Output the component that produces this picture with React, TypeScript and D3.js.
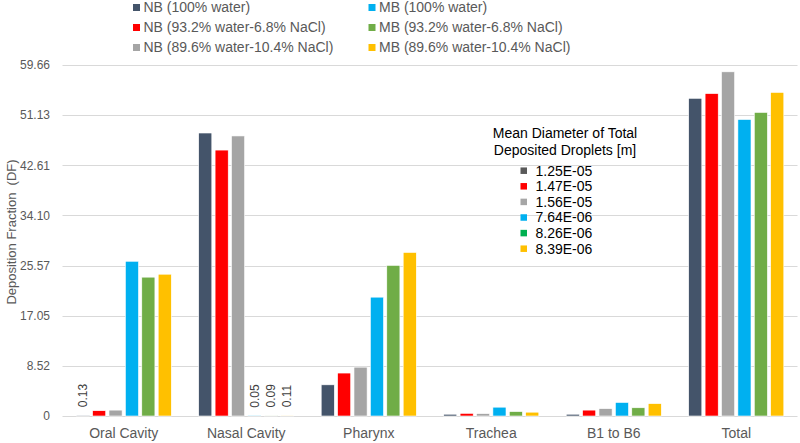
import React from "react";
import * as d3 from "d3";

const categories = ["Oral Cavity", "Nasal Cavity", "Pharynx", "Trachea", "B1 to B6", "Total"];
const seriesNames = [
  "NB (100% water)",
  "NB (93.2% water-6.8% NaCl)",
  "NB (89.6% water-10.4% NaCl)",
  "MB (100% water)",
  "MB (93.2% water-6.8% NaCl)",
  "MB (89.6% water-10.4% NaCl)",
];
const nb100 = [0.13, 48.1, 5.3, 0.3, 0.3, 54.0];
const nb932 = [0.9, 45.2, 7.3, 0.45, 1.0, 54.8];
const nb896 = [1.0, 47.6, 8.3, 0.4, 1.25, 58.5];
const mb100 = [26.3, 0.05, 20.2, 1.5, 2.3, 50.4];
const mb932 = [23.6, 0.09, 25.6, 0.75, 1.4, 51.6];
const mb896 = [24.1, 0.11, 27.8, 0.65, 2.1, 55.0];
const seriesValues = [nb100, nb932, nb896, mb100, mb932, mb896];
const yTicks = [0, 8.52, 17.05, 25.57, 34.1, 42.61, 51.13, 59.66];
const yTickLabels = ["0", "8.52", "17.05", "25.57", "34.10", "42.61", "51.13", "59.66"];
const valueLabels = [
  { cat: 0, series: 0, text: "0.13" },
  { cat: 1, series: 3, text: "0.05" },
  { cat: 1, series: 4, text: "0.09" },
  { cat: 1, series: 5, text: "0.11" },
];
const innerLegendTitle = ["Mean Diameter of Total", "Deposited Droplets [m]"];
const diameters = ["1.25E-05", "1.47E-05", "1.56E-05", "7.64E-06", "8.26E-06", "8.39E-06"];

const colors = ["#44546A", "#FF0000", "#A5A5A5", "#00B0F0", "#70AD47", "#FFC000"];
const innerColors = ["#595959", "#FF0000", "#A6A6A6", "#00B0F0", "#00B050", "#FFC000"];

const W = 800;
const H = 443;
const FONT = "'Liberation Sans', Arial, sans-serif";

export default function App() {
  const x0 = d3.scaleBand<string>().domain(categories).range([62.5, 797.5]).paddingInner(0).paddingOuter(0);
  const x1 = d3
    .scaleBand<number>()
    .domain(d3.range(seriesNames.length))
    .range([0, x0.bandwidth()])
    .paddingInner(0.2)
    .paddingOuter(0.835);
  const y = d3.scaleLinear().domain([0, 59.66]).range([416, 65]);

  return (
    <svg
      width={W}
      height={H}
      style={{ display: "block", position: "absolute", left: 0, top: 0, fontFamily: FONT }}
    >
      <rect width={W} height={H} fill="#fff" />
      {yTicks.map((t, i) => (
        <g key={i}>
          <line x1={62.5} x2={797.5} y1={Math.round(y(t)) + 0.5} y2={Math.round(y(t)) + 0.5} stroke="#D9D9D9" strokeWidth={1} />
          <text x={50} y={y(t)} dy="0.35em" textAnchor="end" fontSize={12} fill="#595959">
            {yTickLabels[i]}
          </text>
        </g>
      ))}
      {categories.map((c, ci) => (
        <g key={c} transform={`translate(${x0(c)},0)`}>
          {seriesValues.map((vals, si) => (
            <rect
              key={si}
              x={x1(si)}
              y={y(vals[ci])}
              width={x1.bandwidth()}
              height={y(0) - y(vals[ci])}
              fill={colors[si]}
              stroke="#ffffff"
              strokeWidth={0.6}
            />
          ))}
        </g>
      ))}
      {valueLabels.map((v, i) => {
        const cx = (x0(categories[v.cat]) as number) + (x1(v.series) as number) + x1.bandwidth() / 2;
        const yy = y(seriesValues[v.series][v.cat]) - 8;
        return (
          <text
            key={i}
            transform={`translate(${cx},${yy}) rotate(-90)`}
            dy="0.35em"
            fontSize={12}
            fill="#404040"
            textAnchor="start"
          >
            {v.text}
          </text>
        );
      })}
      {categories.map((c) => (
        <text key={c} x={(x0(c) as number) + x0.bandwidth() / 2} y={438} textAnchor="middle" fontSize={14} fill="#595959">
          {c}
        </text>
      ))}
      <text
        transform={`translate(11,232) rotate(-90)`}
        textAnchor="middle"
        dy="0.35em"
        fontSize={13}
        fill="#595959"
        style={{ whiteSpace: "pre" }}
      >
        {"Deposition Fraction  (DF)"}
      </text>
      {seriesNames.map((n, i) => {
        const col = Math.floor(i / 3);
        const row = i % 3;
        const mx = col === 0 ? 133 : 368.5;
        const by = 11.5 + row * 20;
        return (
          <g key={n}>
            <rect x={mx} y={by - 7.5} width={7} height={7} fill={colors[i]} />
            <text x={mx + 10.5} y={by} fontSize={14} fill="#595959">
              {n}
            </text>
          </g>
        );
      })}
      {innerLegendTitle.map((t, i) => (
        <text key={i} x={565} y={138 + i * 17} textAnchor="middle" fontSize={14} fill="#000">
          {t}
        </text>
      ))}
      {diameters.map((d, i) => {
        const cy = 170.7 + i * 15.6;
        return (
          <g key={d}>
            <rect x={520.5} y={cy - 3.25} width={6.5} height={6.5} fill={innerColors[i]} />
            <text x={535.5} y={cy} dy="0.35em" fontSize={14} fill="#000">
              {d}
            </text>
          </g>
        );
      })}
    </svg>
  );
}
